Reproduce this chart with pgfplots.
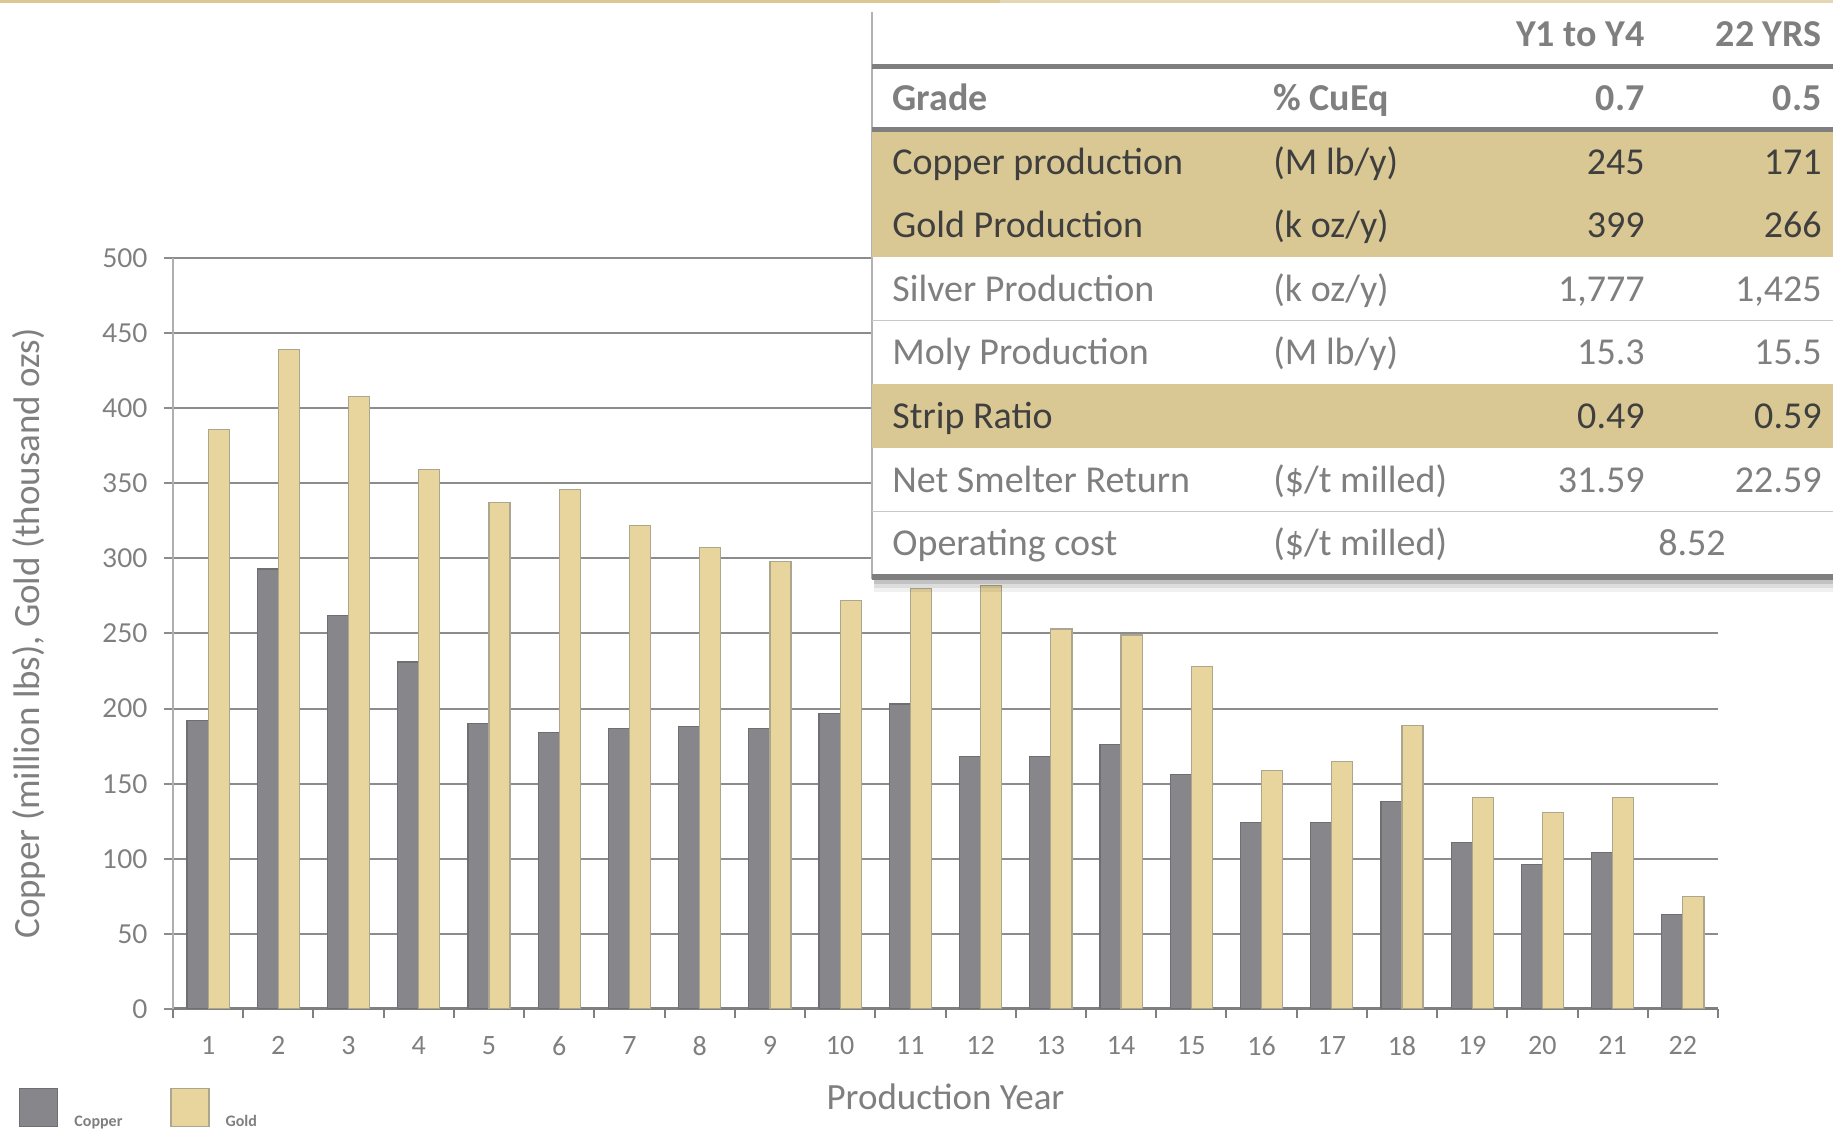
\documentclass[border=0pt]{standalone}
\usepackage{pgfplots}
\pgfplotsset{compat=1.18}
\usepackage{fontspec}
\setmainfont{Carlito}
\newfontfamily\latofont{Lato}
\definecolor{txtgray}{HTML}{7F7F7F}
\definecolor{txtdark}{HTML}{3F3F3F}
\definecolor{cubar}{HTML}{87868B}
\definecolor{cuedge}{HTML}{6F6E73}
\definecolor{aubar}{HTML}{E8D59E}
\definecolor{auedge}{HTML}{ADA68F}
\definecolor{hl}{HTML}{D9C893}
\definecolor{gridc}{HTML}{8C8C8C}
\definecolor{rulec}{HTML}{7F7F7F}
\newcommand\tf{\fontsize{19}{19}\selectfont}
\begin{document}
\begin{tikzpicture}[x=0.5pt,y=0.5pt]
\path[use as bounding box] (0,0) rectangle (1833,1130);
\fill[hl] (0,1126.5) rectangle (1000,1130);
\fill[hl!70] (1000,1126.5) rectangle (1833,1130);
\begin{axis}[
  at={(86.5pt,60.5pt)}, anchor=south west, scale only axis,
  width=772.5pt, height=375.5pt,
  xmin=0.5, xmax=22.5, ymin=0, ymax=500,
  axis x line*=bottom, axis y line*=left,
  x axis line style={color=rulec, line width=1.5pt, -},
  y axis line style={color=gridc!70, line width=0.6pt, -},
  xtick={1,...,22}, minor xtick={0.5,1.5,...,22.5},
  major x tick style={draw=none},
  minor x tick style={color=rulec, line width=1pt},
  ytick={0,50,...,500},
  y tick style={color=gridc, line width=1pt},
  tick align=outside,
  major tick length=4.7pt, minor tick length=4.7pt,
  ymajorgrids, grid style={color=gridc, line width=1pt},
  /pgf/number format/assume math mode=true,
  yticklabel style={font=\latofont\fontsize{13}{13}\selectfont, text=txtgray, xshift=-4.5pt},
  xticklabel style={font=\fontsize{14}{14}\selectfont, text=txtgray, yshift=-5.4pt},
  ylabel={Copper (million lbs), Gold (thousand ozs)},
  ylabel style={at={(axis description cs:-0.0932,0.5)}, anchor=center, font=\fontsize{18.5}{18.5}\selectfont, text=txtgray},
  xlabel={Production Year},
  xlabel style={at={(axis description cs:0.5,-0.1165)}, anchor=center, font=\fontsize{18.5}{18.5}\selectfont, text=txtgray},
  ybar, bar width=0.3,
  legend image code/.code={\fill[#1] (0pt,-2pt) rectangle (19pt,17pt);},
  legend style={draw=none, fill=none, inner sep=0pt, outer sep=0pt,
    at={(axis description cs:-0.0995,-0.1611)}, anchor=south west,
    legend columns=2, font=\bfseries\fontsize{8}{8}\selectfont, text=txtgray,
    /tikz/every odd column/.append style={column sep=8pt},
    /tikz/every even column/.append style={column sep=24pt},
    nodes={inner sep=0pt}},
  legend cell align=left,
]
\addplot[fill=cubar, draw=cuedge, line width=0.6pt, bar shift=-0.15] coordinates {
(1,192) (2,293) (3,262) (4,231) (5,190) (6,184) (7,187) (8,188) (9,187) (10,197) (11,203)
(12,168) (13,168) (14,176) (15,156) (16,124) (17,124) (18,138) (19,111) (20,96) (21,104) (22,63)};
\addlegendentry{Copper}
\addplot[fill=aubar, draw=auedge, line width=0.6pt, bar shift=0.15] coordinates {
(1,386) (2,439) (3,408) (4,359) (5,337) (6,346) (7,322) (8,307) (9,298) (10,272) (11,280)
(12,282) (13,253) (14,249) (15,228) (16,159) (17,165) (18,189) (19,141) (20,131) (21,141) (22,75)};
\addlegendentry{Gold}
\end{axis}
% table
\fill[black, opacity=0.06] (874,538) rectangle (1833,551);
\fill[black, opacity=0.08] (874,542) rectangle (1833,551);
\fill[black, opacity=0.12] (874,546) rectangle (1833,551);
\fill[white] (872,551) rectangle (1840,1118);
\draw[black!30, line width=0.7pt] (872,551) -- (872,1118);
\fill[rulec] (872,1061) rectangle (1833,1066);
\fill[hl] (872,873) rectangle (1833,998);
\fill[rulec] (872,998) rectangle (1833,1003);
\draw[black!22, line width=0.8pt] (872,809.5) -- (1833,809.5);
\fill[hl] (872,682) rectangle (1833,746);
\draw[black!22, line width=0.8pt] (872,618.6) -- (1833,618.6);
\fill[rulec] (872,550) rectangle (1833,556);
\begin{scope}[every node/.style={inner sep=0pt, font=\tf}]
\node[anchor=base east, text=txtgray, font=\tf\bfseries] at (1645,1083.6) {Y1 to Y4};
\node[anchor=base east, text=txtgray, font=\tf\bfseries] at (1822,1083.6) {22 YRS};
\node[anchor=base west, text=txtgray, font=\tf\bfseries] at (892,1019.7) {Grade};
\node[anchor=base west, text=txtgray, font=\tf\bfseries] at (1273,1019.7) {\% CuEq};
\node[anchor=base east, text=txtgray, font=\tf\bfseries] at (1645,1019.7) {0.7};
\node[anchor=base east, text=txtgray, font=\tf\bfseries] at (1822,1019.7) {0.5};
\node[anchor=base west, text=txtdark] at (892,955) {Copper production};
\node[anchor=base west, text=txtdark] at (1273,955) {(M lb/y)};
\node[anchor=base east, text=txtdark] at (1645,955) {245};
\node[anchor=base east, text=txtdark] at (1822,955) {171};
\node[anchor=base west, text=txtdark] at (892,892.4) {Gold Production};
\node[anchor=base west, text=txtdark] at (1273,892.4) {(k oz/y)};
\node[anchor=base east, text=txtdark] at (1645,892.4) {399};
\node[anchor=base east, text=txtdark] at (1822,892.4) {266};
\node[anchor=base west, text=txtgray] at (892,828.5) {Silver Production};
\node[anchor=base west, text=txtgray] at (1273,828.5) {(k oz/y)};
\node[anchor=base east, text=txtgray] at (1645,828.5) {1,777};
\node[anchor=base east, text=txtgray] at (1822,828.5) {1,425};
\node[anchor=base west, text=txtgray] at (892,765) {Moly Production};
\node[anchor=base west, text=txtgray] at (1273,765) {(M lb/y)};
\node[anchor=base east, text=txtgray] at (1645,765) {15.3};
\node[anchor=base east, text=txtgray] at (1822,765) {15.5};
\node[anchor=base west, text=txtdark] at (892,701.5) {Strip Ratio};
\node[anchor=base east, text=txtdark] at (1645,701.5) {0.49};
\node[anchor=base east, text=txtdark] at (1822,701.5) {0.59};
\node[anchor=base west, text=txtgray] at (892,637.6) {Net Smelter Return};
\node[anchor=base west, text=txtgray] at (1273,637.6) {(\$/t milled)};
\node[anchor=base east, text=txtgray] at (1645,637.6) {31.59};
\node[anchor=base east, text=txtgray] at (1822,637.6) {22.59};
\node[anchor=base west, text=txtgray] at (892,574) {Operating cost};
\node[anchor=base west, text=txtgray] at (1273,574) {(\$/t milled)};
\node[anchor=base, text=txtgray] at (1692,574) {8.52};
\end{scope}
\end{tikzpicture}
\end{document}
